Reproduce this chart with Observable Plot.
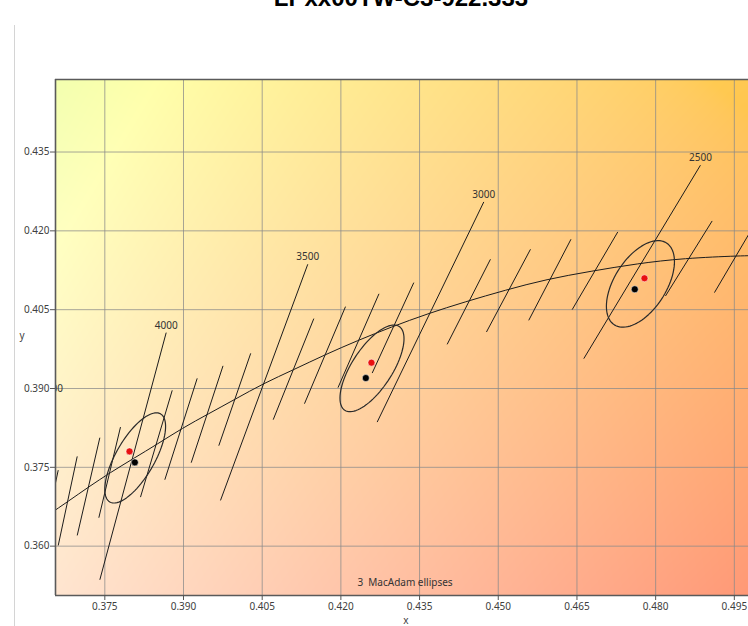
<!DOCTYPE html>
<html><head><meta charset="utf-8">
<script src="https://cdn.jsdelivr.net/npm/d3@7"></script>
<script src="https://cdn.jsdelivr.net/npm/@observablehq/plot@0.6"></script>
<style>
body{margin:0;background:#fff;}
#wrap{position:relative;width:748px;height:626px;overflow:hidden;}
#title{position:absolute;left:0;width:802px;top:-14px;text-align:center;font:bold 24px "Liberation Sans",Arial,sans-serif;line-height:24px;color:#000;z-index:2;}
#vline{position:absolute;left:14px;top:25px;width:0;height:601px;border-left:1px solid #d4d4d4;z-index:2;}
#chart{position:absolute;left:0;top:0;}
</style></head><body>
<div id="wrap"><div id="chart"></div><div id="title">LPxx00TW-C3-922.333</div><div id="vline"></div></div>
<script>
// ---- tick labels ----
const xTicks = [0.375, 0.390, 0.405, 0.420, 0.435, 0.450, 0.465, 0.480, 0.495];
const yTicks = [0.360, 0.375, 0.390, 0.405, 0.420, 0.435];

// ---- Planckian locus (CCT, x, y) ----
const locusT = [4600, 4500, 4400, 4300, 4200, 4100, 4000, 3900, 3800, 3700, 3600, 3500, 3400, 3300, 3200, 3100, 3000, 2900, 2800, 2700, 2600, 2500, 2400, 2300, 2250];
const locusX = [0.3573, 0.3607, 0.3643, 0.3681, 0.3720, 0.3761, 0.3805, 0.3851, 0.3898, 0.3948, 0.3999, 0.4053, 0.4110, 0.4170, 0.4232, 0.4297, 0.4366, 0.4438, 0.4514, 0.4593, 0.4677, 0.4765, 0.4857, 0.4953, 0.5003];
const locusY = [0.3610, 0.3635, 0.3660, 0.3686, 0.3713, 0.3740, 0.3767, 0.3795, 0.3824, 0.3852, 0.3880, 0.3909, 0.3936, 0.3964, 0.3991, 0.4017, 0.4042, 0.4065, 0.4087, 0.4107, 0.4123, 0.4137, 0.4147, 0.4152, 0.4153];

// ---- isotemperature lines (CCT, top end, bottom end) ----
const isoT  = [4500, 4400, 4300, 4200, 4100, 4000, 3900, 3800, 3700, 3600, 3500, 3400, 3300, 3200, 3100, 3000, 2900, 2800, 2700, 2600, 2500, 2400, 2300];
const isoX1 = [0.36484, 0.36612, 0.36974, 0.37405, 0.37799, 0.38670, 0.38785, 0.39261, 0.39753, 0.40281, 0.41369, 0.41484, 0.42088, 0.42726, 0.43390, 0.44724, 0.44851, 0.45614, 0.46386, 0.47278, 0.48854, 0.49077, 0.49940];
const isoY1 = [0.38869, 0.37447, 0.37708, 0.38064, 0.38266, 0.40063, 0.38965, 0.39193, 0.39431, 0.39669, 0.41364, 0.40330, 0.40558, 0.40802, 0.41015, 0.42550, 0.41459, 0.41649, 0.41840, 0.41979, 0.43249, 0.42188, 0.42215];
const isoX2 = [0.35657, 0.36250, 0.36612, 0.36974, 0.37386, 0.37405, 0.38180, 0.38644, 0.39147, 0.39673, 0.39705, 0.40710, 0.41306, 0.41945, 0.42597, 0.42692, 0.44026, 0.44775, 0.45581, 0.46409, 0.46630, 0.48187, 0.49121];
const isoY2 = [0.33831, 0.35752, 0.36013, 0.36204, 0.36541, 0.35360, 0.36933, 0.37264, 0.37588, 0.37912, 0.36870, 0.38407, 0.38711, 0.39016, 0.39294, 0.38361, 0.39840, 0.40075, 0.40297, 0.40501, 0.39568, 0.40760, 0.40825];
const labelledT = [4500, 4000, 3500, 3000, 2500];

// ---- 3-step MacAdam ellipses ----
const ellCx  = [0.38079, 0.42593, 0.47710];
const ellCy  = [0.37679, 0.39383, 0.40990];
const ellA   = [0.00968, 0.00951, 0.00924];
const ellB   = [0.00368, 0.00385, 0.00495];
const ellDeg = [60, 57, 57.5];

// ---- measured points ----
const redX   = [0.37971, 0.42583, 0.47787];
const redY   = [0.37803, 0.39492, 0.41097];
const blackX = [0.38072, 0.42475, 0.47602];
const blackY = [0.37594, 0.39199, 0.40888];

const xDomain = [0.3656, 0.4977];
const yDomain = [0.35061, 0.4488];

const locus = locusT.map((t, i) => ({t, x: locusX[i], y: locusY[i]}));
const iso = isoT.map((t, i) => ({t, x1: isoX1[i], y1: isoY1[i], x2: isoX2[i], y2: isoY2[i]}));
const isoLabels = iso.filter(d => labelledT.includes(d.t));
const ellPts = [];
ellCx.forEach((cx, k) => {
  const th = ellDeg[k] * Math.PI / 180, c = Math.cos(th), s = Math.sin(th);
  for (let i = 0; i <= 90; i++) {
    const u = i / 90 * 2 * Math.PI;
    const ca = ellA[k] * Math.cos(u), sb = ellB[k] * Math.sin(u);
    ellPts.push({id: k, x: cx + ca * c - sb * s, y: ellCy[k] + ca * s + sb * c});
  }
});
const reds = redX.map((x, i) => ({x, y: redY[i]}));
const blacks = blackX.map((x, i) => ({x, y: blackY[i]}));

// background: chromaticity colour, washed toward white
function bg(x, y) {
  const z = 1 - x - y, X = x / y, Z = z / y;
  let r = 3.2406 * X - 1.5372 - 0.4986 * Z;
  let g = -0.9689 * X + 1.8758 + 0.0415 * Z;
  let b = 0.0557 * X - 0.2040 + 1.0570 * Z;
  r = Math.max(r, 0); g = Math.max(g, 0); b = Math.max(b, 0);
  const m = Math.max(r, g, b); r /= m; g /= m; b /= m;
  const gam = v => v <= 0.0031308 ? 12.92 * v : 1.055 * Math.pow(v, 1 / 2.4) - 0.055;
  const u = (x - xDomain[0]) / (xDomain[1] - xDomain[0]);
  const v = (yDomain[1] - y) / (yDomain[1] - yDomain[0]);
  const a = 0.55 + 0.2 * u * v + 0.1 * u * (1 - v), aB = 0.68 + 0.18 * u * v;
  const f = (c, al) => Math.round(255 * (1 - al + al * gam(c)));
  return `rgb(${f(r, a)},${f(g, a)},${f(b, aB)})`;
}

const fmt = d3.format(".3f");
const chart = Plot.plot({
  width: 748, height: 626,
  marginTop: 79, marginBottom: 31, marginLeft: 55, marginRight: 0,
  x: {domain: xDomain},
  y: {domain: yDomain},
  color: {type: "identity"},
  style: {fontFamily: "'Noto Sans', sans-serif", fontSize: "10px", color: "#404040", background: "white"},
  marks: [
    Plot.raster({x1: xDomain[0], x2: xDomain[1], y1: yDomain[0], y2: yDomain[1], fill: (x, y) => bg(x, y), pixelSize: 1}),
    Plot.gridX(xTicks, {stroke: "#8a8a8a", strokeOpacity: 0.75}),
    Plot.gridY(yTicks, {stroke: "#8a8a8a", strokeOpacity: 0.75}),
    Plot.line(locus, {x: "x", y: "y", curve: "natural", stroke: "#1c1c1c", strokeWidth: 1, clip: true}),
    Plot.link(iso, {x1: "x1", y1: "y1", x2: "x2", y2: "y2", stroke: "#1c1c1c", strokeWidth: 1, clip: true}),
    Plot.text(isoLabels, {x: "x1", y: "y1", text: d => String(d.t), dy: -7, fill: "#333", clip: true}),
    Plot.line(ellPts, {x: "x", y: "y", z: "id", stroke: "#2a2a2a", strokeWidth: 1.2, curve: "linear-closed"}),
    Plot.dot(reds, {x: "x", y: "y", r: 3.5, fill: "#e81010", stroke: "white", strokeWidth: 0.5}),
    Plot.dot(blacks, {x: "x", y: "y", r: 3.5, fill: "#000", stroke: "white", strokeWidth: 0.5}),
    Plot.ruleY([yDomain[1]], {stroke: "#5a5a5a", strokeWidth: 1.6}),
    Plot.ruleY([yDomain[0]], {stroke: "#5a5a5a", strokeWidth: 1.6}),
    Plot.ruleX([xDomain[0]], {stroke: "#5a5a5a", strokeWidth: 1.6}),
    Plot.axisX(xTicks, {tickFormat: fmt, tickSize: 5, tickPadding: 2, label: null, stroke: "#555", fill: "#404040"}),
    Plot.axisY(yTicks, {tickFormat: fmt, tickSize: 5, tickPadding: 1, label: null, stroke: "#555", fill: "#404040"}),
    Plot.text(["3\u00a0 MacAdam ellipses"], {frameAnchor: "bottom", dx: 3, dy: -10, fill: "#333"}),
    Plot.text(["x"], {frameAnchor: "bottom", dx: 4, dy: 28, fill: "#404040"}),
    Plot.text(["y"], {frameAnchor: "left", dx: -36, dy: -2, fill: "#404040"})
  ]
});
document.getElementById("chart").appendChild(chart);
</script>
</body></html>
